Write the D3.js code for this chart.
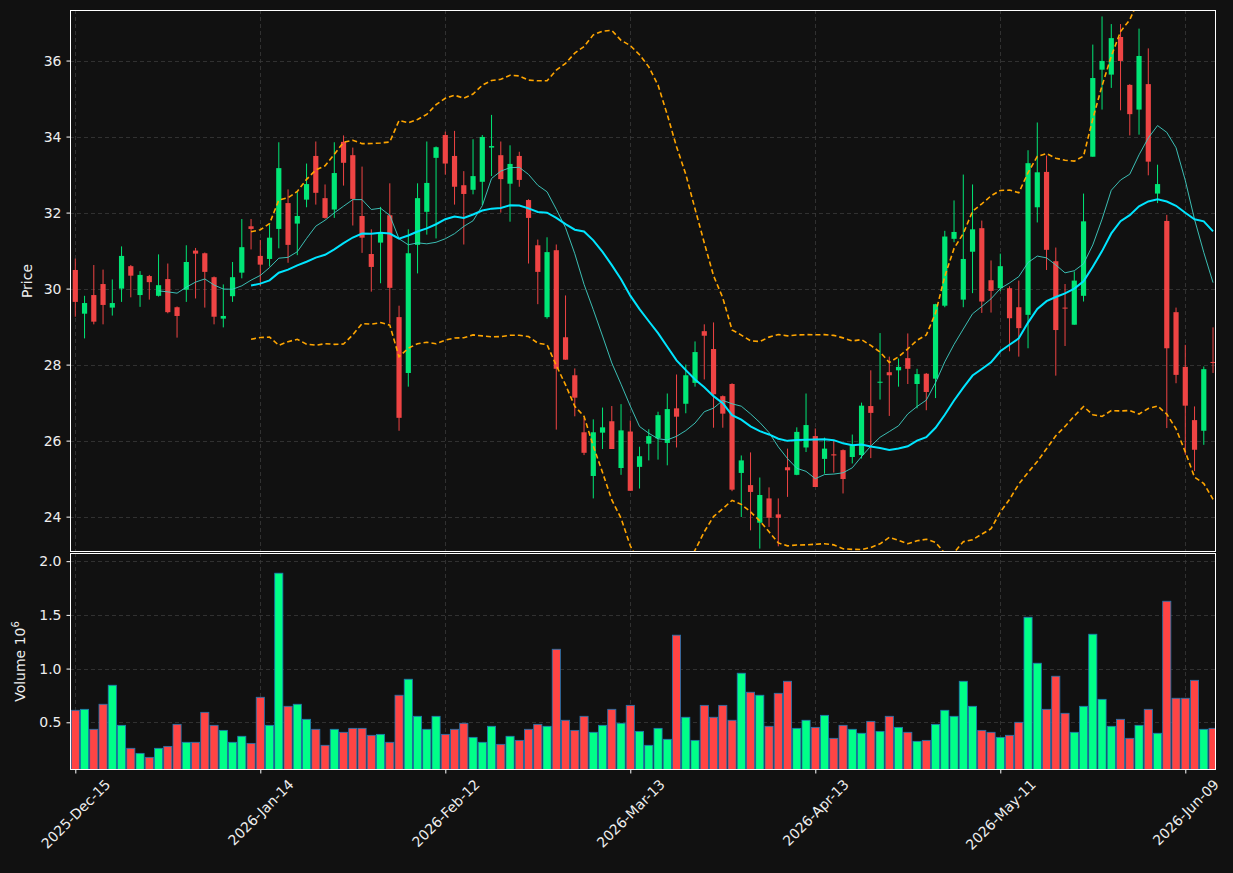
<!DOCTYPE html>
<html>
<head>
<meta charset="utf-8">
<script src="https://cdn.jsdelivr.net/npm/d3@7"></script>
<style>
	html, body { margin: 0; padding: 0; background: #111111; }
	svg { display: block; }
	text { font-family: "DejaVu Sans", sans-serif; }
</style>
</head>
<body>
<div id="app"></div>
<script>
// OHLC, one entry per trading day
const opens = [
	30.49, 29.34, 29.83, 30.12, 29.50, 30.00, 30.59, 29.83, 30.33, 29.81,
	30.25, 29.51, 29.97, 31.00, 30.93, 30.30, 29.21, 29.80, 30.42, 31.64,
	30.86, 30.78, 31.57, 32.25, 31.71, 32.34, 33.49, 32.38, 32.08, 33.86,
	33.51, 31.91, 30.91, 31.21, 31.93, 29.25, 27.78, 31.15, 32.02, 33.44,
	34.04, 33.49, 32.72, 32.60, 32.81, 33.71, 33.51, 32.76, 33.49, 32.33,
	31.14, 29.25, 31.01, 28.72, 27.72, 26.22, 25.07, 26.21, 26.51, 25.28,
	26.24, 25.31, 25.92, 26.06, 25.94, 26.85, 26.97, 27.52, 28.88, 28.41,
	27.17, 27.49, 25.15, 24.83, 23.84, 24.48, 24.06, 25.30, 25.10, 25.82,
	26.12, 25.52, 25.64, 25.75, 25.57, 25.62, 26.91, 27.53, 27.80, 27.85,
	28.17, 27.49, 27.76, 27.63, 29.55, 31.31, 29.71, 30.97, 31.59, 30.22,
	30.01, 30.01, 29.51, 29.31, 32.14, 33.07, 30.72, 29.50, 29.05, 29.81,
	33.47, 35.76, 35.63, 36.62, 35.36, 34.71, 35.38, 32.50, 31.78, 29.38,
	27.94, 26.54, 26.26, 28.07
];
const highs = [
	30.79, 29.81, 30.62, 30.50, 30.24, 31.11, 30.62, 30.46, 30.36, 30.90,
	30.66, 29.53, 31.14, 31.07, 30.95, 30.32, 30.11, 30.70, 31.83, 31.83,
	31.28, 31.71, 33.85, 32.61, 32.56, 33.29, 33.87, 32.74, 33.85, 34.03,
	33.71, 33.21, 31.56, 32.15, 32.77, 29.55, 31.56, 32.77, 33.87, 33.74,
	34.13, 34.15, 33.09, 33.93, 34.04, 34.57, 33.87, 33.77, 33.60, 32.35,
	31.29, 31.35, 31.16, 29.82, 27.90, 26.60, 26.56, 26.87, 26.91, 26.96,
	26.53, 25.84, 26.30, 26.76, 27.24, 27.74, 28.00, 28.61, 29.06, 29.11,
	27.19, 27.51, 25.61, 25.69, 25.03, 24.77, 24.48, 25.79, 26.35, 27.24,
	26.32, 26.08, 25.99, 25.77, 26.16, 27.00, 27.85, 28.83, 28.21, 28.16,
	28.82, 27.89, 27.78, 29.60, 31.52, 32.32, 33.00, 32.74, 31.79, 30.74,
	30.92, 30.06, 30.21, 33.64, 34.37, 33.50, 31.08, 30.12, 30.45, 32.50,
	36.42, 37.16, 36.96, 36.96, 35.38, 36.84, 36.32, 33.26, 31.94, 29.50,
	28.52, 26.90, 27.95, 28.98
];
const lows = [
	29.26, 28.69, 29.06, 29.06, 29.29, 29.65, 29.77, 29.52, 29.71, 29.79,
	29.35, 28.71, 29.65, 29.74, 29.50, 29.06, 28.98, 29.65, 30.27, 31.03,
	30.07, 30.58, 31.06, 30.68, 30.88, 32.14, 32.21, 31.84, 31.86, 32.71,
	31.66, 30.94, 29.92, 30.14, 29.08, 26.26, 27.42, 30.40, 31.42, 31.32,
	33.00, 32.21, 31.16, 32.48, 32.20, 32.96, 32.00, 31.76, 32.68, 30.66,
	29.59, 29.21, 26.29, 28.13, 26.64, 25.62, 24.48, 25.78, 25.78, 25.10,
	24.68, 24.74, 25.48, 25.50, 25.35, 25.82, 26.72, 27.42, 27.61, 26.34,
	26.34, 24.67, 23.99, 23.64, 23.16, 23.73, 23.22, 24.52, 25.09, 25.70,
	24.78, 25.13, 25.16, 24.61, 25.40, 25.53, 25.54, 27.08, 26.65, 27.42,
	27.49, 26.85, 26.80, 27.12, 29.51, 31.22, 29.51, 29.88, 29.36, 29.37,
	29.93, 28.35, 28.21, 28.43, 31.74, 30.49, 27.71, 28.49, 29.05, 29.66,
	33.47, 34.71, 35.28, 34.69, 34.03, 34.05, 32.98, 32.25, 26.33, 27.51,
	25.63, 25.20, 25.89, 27.78
];
const closes = [
	29.65, 29.62, 29.13, 29.57, 29.62, 30.86, 30.34, 30.36, 30.17, 30.09,
	29.38, 29.28, 30.70, 30.92, 30.44, 29.26, 29.28, 30.30, 31.09, 31.57,
	30.63, 31.34, 33.17, 31.15, 31.91, 32.75, 32.52, 31.86, 33.04, 33.31,
	32.36, 31.34, 30.57, 31.49, 30.02, 26.60, 30.93, 32.38, 32.78, 33.72,
	33.29, 32.68, 32.49, 32.96, 33.99, 33.75, 32.88, 33.28, 32.86, 31.86,
	30.44, 30.96, 27.89, 28.13, 27.13, 25.68, 26.22, 26.35, 25.78, 26.27,
	24.68, 25.59, 26.12, 26.67, 26.83, 26.63, 27.72, 28.33, 28.76, 27.22,
	26.71, 24.71, 25.48, 24.65, 24.57, 23.97, 23.97, 25.22, 26.23, 26.41,
	24.78, 25.79, 25.61, 24.99, 25.88, 26.92, 26.73, 27.55, 27.72, 27.94,
	27.89, 27.75, 27.28, 29.59, 31.37, 31.49, 30.78, 31.56, 29.66, 29.94,
	30.59, 29.22, 28.96, 33.30, 33.06, 31.02, 28.91, 29.49, 30.21, 31.77,
	35.54, 35.99, 36.59, 35.99, 34.59, 36.12, 33.34, 32.75, 28.43, 27.73,
	26.92, 25.76, 27.88, 28.05
];
// volume in millions
const volumes = [
	0.612, 0.621, 0.435, 0.668, 0.845, 0.472, 0.258, 0.211, 0.174, 0.258,
	0.276, 0.481, 0.314, 0.314, 0.593, 0.472, 0.425, 0.314, 0.370, 0.304,
	0.733, 0.472, 1.888, 0.649, 0.668, 0.528, 0.435, 0.286, 0.435, 0.407,
	0.444, 0.444, 0.379, 0.388, 0.314, 0.752, 0.901, 0.556, 0.435, 0.556,
	0.388, 0.435, 0.491, 0.360, 0.314, 0.463, 0.295, 0.370, 0.332, 0.435,
	0.481, 0.463, 1.180, 0.519, 0.425, 0.556, 0.407, 0.472, 0.621, 0.491,
	0.658, 0.416, 0.286, 0.444, 0.342, 1.311, 0.547, 0.332, 0.658, 0.547,
	0.658, 0.519, 0.957, 0.780, 0.752, 0.463, 0.770, 0.882, 0.444, 0.519,
	0.453, 0.565, 0.351, 0.472, 0.435, 0.398, 0.509, 0.416, 0.556, 0.453,
	0.407, 0.323, 0.332, 0.481, 0.612, 0.556, 0.882, 0.649, 0.425, 0.407,
	0.360, 0.379, 0.500, 1.478, 1.050, 0.621, 0.929, 0.584, 0.407, 0.649,
	1.320, 0.714, 0.463, 0.528, 0.351, 0.472, 0.621, 0.398, 1.627, 0.724,
	0.724, 0.891, 0.435, 0.444
];

const tickIndex = [0, 20, 40, 60, 80, 100, 120];
const tickLabels = ["2025-Dec-15", "2026-Jan-14", "2026-Feb-12", "2026-Mar-13", "2026-Apr-13", "2026-May-11", "2026-Jun-09"];
const priceTicks = [24, 26, 28, 30, 32, 34, 36];
const volumeTicks = [0.5, 1.0, 1.5, 2.0];

const config = {
	width: 1233,
	height: 873,
	left: 70,
	right: 1216,
	price: { top: 10, bottom: 552 },
	vol: { top: 553, bottom: 770 },
	fontSize: 14,
	color: {
		bg: "#111111",
		up: "#00e676",
		down: "#ef4444",
		volUp: "#00ff88",
		volDown: "#ff4444",
		volEdge: "#1f77b4",
		grid: "#3a3a3a",
		text: "#eeeeee",
		maFast: "#3fcfc4",
		maSlow: "#00e5ff",
		band: "#ffa500"
	}
};

const bars = closes.map((c, i) => ({ i, o: opens[i], h: highs[i], l: lows[i], c, v: volumes[i] }));

function rolling(values, n, fn) {
	return values.map((v, i) => i < n - 1 ? null : fn(values.slice(i - n + 1, i + 1)));
}

const ma10 = rolling(closes, 10, d3.mean);
const ma20 = rolling(closes, 20, d3.mean);
const sd20 = rolling(closes, 20, d3.deviation);
const bbUp = ma20.map((m, i) => m == null ? null : m + 2 * sd20[i]);
const bbLo = ma20.map((m, i) => m == null ? null : m - 2 * sd20[i]);

function render() {
	const c = config.color;
	const fs = config.fontSize;
	const svg = d3.select("#app").append("svg")
		.attr("width", config.width)
		.attr("height", config.height)
		.style("background", c.bg);

	const x = d3.scaleLinear().domain([-0.573, 123.32]).range([config.left, config.right]);
	const yP = d3.scaleLinear().domain([23.07, 37.33]).range([config.price.bottom, config.price.top]);
	const yV = d3.scaleLinear().domain([0.056, 2.076]).range([config.vol.bottom, config.vol.top]);
	const step = x(1) - x(0);

	const defs = svg.append("defs");
	defs.append("clipPath").attr("id", "clipP").append("rect")
		.attr("x", config.left).attr("y", config.price.top)
		.attr("width", config.right - config.left).attr("height", config.price.bottom - config.price.top);
	defs.append("clipPath").attr("id", "clipV").append("rect")
		.attr("x", config.left).attr("y", config.vol.top)
		.attr("width", config.right - config.left).attr("height", config.vol.bottom - config.vol.top);

	// grids
	[[yP, priceTicks, config.price], [yV, volumeTicks, config.vol]].forEach(([y, ticks, box]) => {
		const g = svg.append("g").attr("stroke", c.grid).attr("stroke-width", 0.8).attr("stroke-dasharray", "4,3");
		g.selectAll(".h").data(ticks).enter().append("line")
			.attr("x1", config.left).attr("x2", config.right)
			.attr("y1", d => Math.round(y(d)) + 0.5).attr("y2", d => Math.round(y(d)) + 0.5);
		g.selectAll(".v").data(tickIndex).enter().append("line")
			.attr("x1", d => Math.round(x(d)) + 0.5).attr("x2", d => Math.round(x(d)) + 0.5)
			.attr("y1", box.top).attr("y2", box.bottom);
	});

	// candles
	const cg = svg.append("g").attr("clip-path", "url(#clipP)");
	const bodyW = step * 0.56;
	cg.selectAll(".wick").data(bars).enter().append("line")
		.attr("x1", d => x(d.i)).attr("x2", d => x(d.i))
		.attr("y1", d => yP(d.h)).attr("y2", d => yP(d.l))
		.attr("stroke", d => d.c >= d.o ? c.up : c.down)
		.attr("stroke-width", 1);
	cg.selectAll(".body").data(bars).enter().append("rect")
		.attr("x", d => x(d.i) - bodyW / 2)
		.attr("width", bodyW)
		.attr("y", d => yP(Math.max(d.o, d.c)))
		.attr("height", d => Math.max(1, Math.abs(yP(d.o) - yP(d.c))))
		.attr("fill", d => d.c >= d.o ? c.up : c.down);

	// indicator lines
	const line = d3.line().defined(d => d[1] != null).x(d => x(d[0])).y(d => yP(d[1]));
	const asPts = arr => arr.map((v, i) => [i, v]);
	cg.append("path").datum(asPts(ma10)).attr("d", line)
		.attr("fill", "none").attr("stroke", c.maFast).attr("stroke-width", 1).attr("stroke-opacity", 0.9);
	cg.append("path").datum(asPts(ma20)).attr("d", line)
		.attr("fill", "none").attr("stroke", c.maSlow).attr("stroke-width", 2);
	[bbUp, bbLo].forEach(band => {
		cg.append("path").datum(asPts(band)).attr("d", line)
			.attr("fill", "none").attr("stroke", c.band).attr("stroke-width", 1.6)
			.attr("stroke-dasharray", "5,3");
	});

	// volume
	const vg = svg.append("g").attr("clip-path", "url(#clipV)");
	const volW = step * 0.88;
	vg.selectAll("rect").data(bars).enter().append("rect")
		.attr("x", d => x(d.i) - volW / 2)
		.attr("width", volW)
		.attr("y", d => yV(d.v))
		.attr("height", d => config.vol.bottom - yV(d.v))
		.attr("fill", d => d.c >= d.o ? c.volUp : c.volDown)
		.attr("stroke", c.volEdge)
		.attr("stroke-width", 0.8);

	// frames
	[config.price, config.vol].forEach(box => {
		svg.append("rect")
			.attr("x", config.left + 0.5).attr("y", box.top + 0.5)
			.attr("width", config.right - config.left - 1).attr("height", box.bottom - box.top - 1)
			.attr("fill", "none").attr("stroke", "#ffffff").attr("stroke-width", 1);
	});

	// axes
	const styleAxis = g => {
		g.select(".domain").remove();
		g.selectAll(".tick line").attr("stroke", "#ffffff");
		g.selectAll(".tick text").attr("fill", c.text).style("font-size", fs + "px").style("font-family", "DejaVu Sans");
	};
	svg.append("g").attr("transform", `translate(${config.left},0)`)
		.call(d3.axisLeft(yP).tickValues(priceTicks).tickSize(3.5).tickPadding(5).tickFormat(d3.format("d")))
		.call(styleAxis);
	svg.append("g").attr("transform", `translate(${config.left},0)`)
		.call(d3.axisLeft(yV).tickValues(volumeTicks).tickSize(3.5).tickPadding(5).tickFormat(d3.format(".1f")))
		.call(styleAxis);
	const xa = svg.append("g").attr("transform", `translate(0,${config.vol.bottom})`)
		.call(d3.axisBottom(x).tickValues(tickIndex).tickSize(3.5).tickFormat((d, i) => tickLabels[i]))
		.call(styleAxis);
	// rotated labels centred under their tick, like matplotlib's rotation=45
	xa.selectAll(".tick text").each(function() {
		const len = this.getComputedTextLength();
		const half = (len + fs) / (2 * Math.SQRT2);
		d3.select(this)
			.attr("text-anchor", "middle")
			.attr("y", 0)
			.attr("dy", "0.35em")
			.attr("transform", `translate(0,${7 + half}) rotate(-45)`);
	});

	// axis labels
	svg.append("text")
		.attr("transform", `translate(32,${(config.price.top + config.price.bottom) / 2}) rotate(-90)`)
		.attr("text-anchor", "middle")
		.attr("fill", c.text).style("font-size", fs + "px")
		.text("Price");
	const vl = svg.append("text")
		.attr("transform", `translate(25,${(config.vol.top + config.vol.bottom) / 2}) rotate(-90)`)
		.attr("text-anchor", "middle")
		.attr("fill", c.text).style("font-size", fs + "px");
	vl.append("tspan").text("Volume  10");
	vl.append("tspan").attr("dy", -6).style("font-size", "10px").text("6");
}

document.addEventListener("DOMContentLoaded", render);
</script>
</body>
</html>
